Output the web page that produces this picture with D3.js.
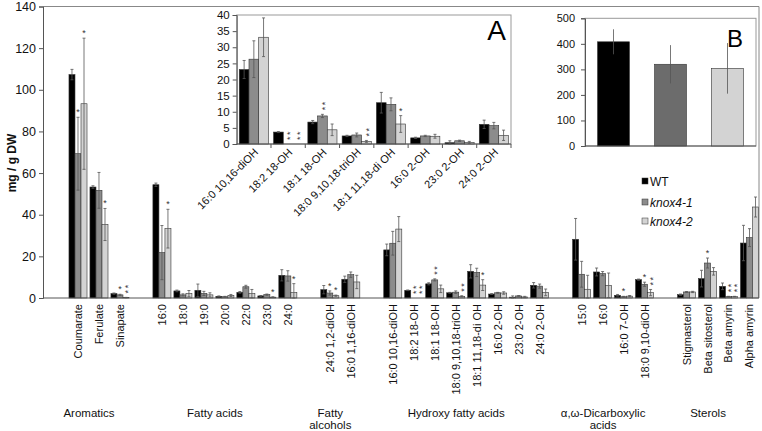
<!DOCTYPE html>
<html><head><meta charset="utf-8">
<script src="https://cdn.jsdelivr.net/npm/d3@7"></script>
<style>body{margin:0;background:#fff} svg{font-family:"Liberation Sans",Arial,sans-serif}</style>
</head><body><svg id="c" width="762" height="431"></svg>
<script>
// ---------------- DATA ----------------
const seriesNames = ["WT", "knox4-1", "knox4-2"];
const groupNames = ["Aromatics", "Fatty acids", "Fatty\nalcohols", "Hydroxy fatty acids", "α,ω-Dicarboxylic\nacids", "Sterols"];
const groupSizes = [3, 7, 2, 8, 4, 4];
const categories = [
  "Coumarate", "Ferulate", "Sinapate",
  "16:0", "18:0", "19:0", "20:0", "22:0", "23:0", "24:0",
  "24:0 1,2-diOH", "16:0 1,16-diOH",
  "16:0 10,16-diOH", "18:2 18-OH", "18:1 18-OH", "18:0 9,10,18-triOH", "18:1 11,18-di OH", "16:0 2-OH", "23:0 2-OH", "24:0 2-OH",
  "15:0", "16:0", "16:0 7-OH", "18:0 9,10-diOH",
  "Stigmasterol", "Beta sitosterol", "Beta amyrin", "Alpha amyrin"
];
const wtValues = [107.3, 53.3, 2.1, 54.4, 3.4, 3.7, 0.8, 2.7, 1.0, 10.9, 4.0, 9.0,
  23.1, 3.7, 6.8, 2.5, 12.8, 1.9, 0.4, 6.1, 28.2, 12.5, 1.3, 8.8, 1.6, 9.3, 5.6, 26.4];
const knox41Values = [69.3, 51.7, 1.5, 21.8, 1.5, 2.2, 0.6, 5.4, 1.6, 10.6, 2.4, 11.2,
  26.3, 0, 8.7, 2.8, 12.3, 2.5, 1.0, 5.7, 11.4, 11.7, 0.6, 6.6, 2.9, 16.8, 0.7, 29.0];
const knox42Values = [93.3, 35.3, 0.2, 33.3, 2.1, 1.5, 1.2, 2.1, 0.4, 2.6, 1.1, 7.7,
  33.1, 0, 4.4, 0.8, 6.2, 2.4, 0.5, 2.7, 4.2, 6.1, 0.9, 2.6, 2.9, 12.8, 0.7, 43.7];
const wtErrors = [2.5, 0.6, 0.3, 0.8, 0.4, 3.0, 0.2, 0.4, 0.2, 2.7, 2.0, 1.5,
  2.8, 0.15, 0.5, 0.2, 3.2, 0.2, 0.6, 1.3, 10.0, 1.9, 0.4, 0.3, 0.3, 4.0, 1.6, 8.5];
const knox41Errors = [17.5, 8.6, 0.3, 13.0, 0.5, 1.0, 0.2, 0.7, 0.3, 2.5, 1.0, 1.3,
  5.7, 0, 0.5, 0.6, 2.0, 0.2, 0.2, 1.0, 6.2, 1.0, 0.2, 1.0, 0.2, 2.4, 0.1, 4.3];
const knox42Errors = [31.5, 7.7, 0.1, 9.3, 1.5, 1.0, 0.5, 2.0, 0.2, 4.3, 0.3, 3.2,
  6.0, 0, 1.8, 0.3, 2.6, 0.6, 0.3, 1.6, 6.7, 5.9, 0.3, 1.5, 0.3, 1.8, 0.1, 4.8];
const wtSig = Array(28).fill("");
const knox41Sig = ["*", "", "*", "", "", "", "", "", "", "", "*", "",
  "", "**", "**", "", "", "", "", "", "", "", "*", "*", "", "*", "**", ""];
const knox42Sig = ["*", "*", "**", "*", "", "", "", "", "*", "*", "*", "",
  "", "**", "", "**", "*", "", "", "", "", "", "", "**", "", "", "**", ""];
const yTicksMain = [0, 20, 40, 60, 80, 100, 120, 140];

// Inset A: hydroxy fatty acids (categories 12..19 of the main data)
const insetAStart = 12, insetACount = 8;
const yTicksA = [0, 5, 10, 15, 20, 25, 30, 35, 40];
// Inset B
const insetBValues = [408, 320, 304];
const insetBErrors = [49, 75, 99];
const yTicksB = [0, 100, 200, 300, 400, 500];

const colorsMain = ["#000000", "#8c8c8c", "#d3d3d3"];
const colorsB = ["#000000", "#6c6c6c", "#d3d3d3"];

// ---------------- DRAW ----------------
const svg = d3.select("#c");
const valuesBySeries = [wtValues, knox41Values, knox42Values];
const errorsBySeries = [wtErrors, knox41Errors, knox42Errors];
const sigBySeries = [wtSig, knox41Sig, knox42Sig];

const slots = [];
const groupSlotRanges = [];
let ci = 0;
groupSizes.forEach((n, g) => {
  const first = ci;
  for (let k = 0; k < n; k++) { slots.push("c" + ci); ci++; }
  groupSlotRanges.push([first, ci - 1]);
  if (g < groupSizes.length - 1) slots.push("gap" + g);
});

const M = {left: 43, right: 759, top: 6.5, bottom: 298};
const x = d3.scaleBand().domain(slots).range([67.5, 760]).paddingInner(0.14).paddingOuter(0.07);
const xs = d3.scaleBand().domain(seriesNames).range([0, x.bandwidth()]);
const y = d3.scaleLinear().domain([0, 140]).range([M.bottom, M.top]);

const data = [];
categories.forEach((c, i) => {
  seriesNames.forEach((s, j) => {
    data.push({i, s, j, v: valuesBySeries[j][i], e: errorsBySeries[j][i], sig: sigBySeries[j][i]});
  });
});

function drawBars(g, rows, xPos, bw, yS, colors, capW) {
  g.selectAll("rect.bar").data(rows).join("rect")
    .attr("x", d => xPos(d)).attr("width", bw)
    .attr("y", d => yS(d.v)).attr("height", d => yS(0) - yS(d.v))
    .attr("fill", d => colors[d.j]).attr("stroke", "#333").attr("stroke-width", 0.6);
  const eb = g.selectAll("g.err").data(rows.filter(d => d.e > 0)).join("g");
  eb.append("line")
    .attr("x1", d => xPos(d) + bw / 2).attr("x2", d => xPos(d) + bw / 2)
    .attr("y1", d => yS(Math.max(0, d.v - d.e))).attr("y2", d => yS(d.v + d.e));
  eb.append("line")
    .attr("x1", d => xPos(d) + bw / 2 - capW).attr("x2", d => xPos(d) + bw / 2 + capW)
    .attr("y1", d => yS(d.v + d.e)).attr("y2", d => yS(d.v + d.e));
  eb.append("line")
    .attr("x1", d => xPos(d) + bw / 2 - capW).attr("x2", d => xPos(d) + bw / 2 + capW)
    .attr("y1", d => yS(Math.max(0, d.v - d.e))).attr("y2", d => yS(Math.max(0, d.v - d.e)));
  eb.selectAll("line").attr("stroke", "#555").attr("stroke-width", 0.8);
  // single asterisks
  g.selectAll("text.sig1").data(rows.filter(d => d.sig === "*")).join("text")
    .attr("x", d => xPos(d) + bw / 2).attr("y", d => yS(d.v + d.e) - 2)
    .attr("text-anchor", "middle").attr("font-size", 9).attr("fill", "#333").text("*");
  // double asterisks, stacked vertically (one rotated text element)
  g.selectAll("text.sig2").data(rows.filter(d => d.sig === "**")).join("text")
    .attr("transform", d => `translate(${xPos(d) + bw / 2},${yS(d.v + d.e) - 4}) rotate(-90)`)
    .attr("text-anchor", "start").attr("dy", "0.575em").attr("letter-spacing", 1.5)
    .attr("font-size", 9).attr("fill", "#333").text("**");
}

// main frame
const main = svg.append("g");
main.append("line").attr("x1", M.left).attr("x2", M.right).attr("y1", M.top).attr("y2", M.top).attr("stroke", "#888");
main.append("line").attr("x1", M.right).attr("x2", M.right).attr("y1", M.top).attr("y2", M.bottom).attr("stroke", "#888");

drawBars(main, data, d => x("c" + d.i) + xs(d.s), xs.bandwidth(), y, colorsMain, 1.5);

const yAx = main.append("g").attr("transform", `translate(${M.left},0)`)
  .call(d3.axisLeft(y).tickValues(yTicksMain).tickSize(4).tickPadding(3));
yAx.select(".domain").attr("stroke", "#555");
yAx.selectAll(".tick line").attr("stroke", "#555");
yAx.selectAll("text").attr("font-size", 12.5).attr("fill", "#111").attr("font-family", "Liberation Sans, Arial");
main.append("line").attr("x1", M.left).attr("x2", M.right).attr("y1", M.bottom).attr("y2", M.bottom).attr("stroke", "#555");

main.selectAll("text.cat").data(categories).join("text")
  .attr("transform", (d, i) => `translate(${x("c" + i) + x.bandwidth() / 2},304) rotate(-90)`)
  .attr("text-anchor", "end").attr("dy", "0.36em").attr("font-size", 11).attr("fill", "#111").text(d => d);

groupNames.forEach((name, g) => {
  const [a, b] = groupSlotRanges[g];
  const cx = (x("c" + a) + x("c" + b) + x.bandwidth()) / 2 - 10;
  const t = main.append("text").attr("x", cx).attr("y", 417).attr("text-anchor", "middle")
    .attr("font-size", 11.5).attr("fill", "#111");
  name.split("\n").forEach((line, k) => {
    t.append("tspan").attr("x", cx).attr("dy", k === 0 ? 0 : 12).text(line);
  });
});

svg.append("text").attr("transform", "translate(16,163) rotate(-90)").attr("text-anchor", "middle")
  .attr("font-size", 12).attr("font-weight", "bold").attr("fill", "#111").text("mg / g DW");

const leg = svg.append("g");
seriesNames.forEach((s, j) => {
  const cy = [181.5, 202.5, 221.5][j];
  leg.append("rect").attr("x", 642).attr("y", cy - 3.5).attr("width", 6).attr("height", 6)
    .attr("fill", colorsMain[j]).attr("stroke", "#333").attr("stroke-width", 0.5);
  leg.append("text").attr("x", 650).attr("y", cy).attr("dy", "0.35em").attr("font-size", 12)
    .attr("font-style", j > 0 ? "italic" : "normal").attr("fill", "#111").text(s);
});

// ---------------- INSET A ----------------
const A = {left: 236.7, right: 511, top: 15, bottom: 144};
const insetCats = categories.slice(insetAStart, insetAStart + insetACount);
const xa = d3.scaleBand().domain(insetCats).range([A.left, A.right]).paddingInner(0.15).paddingOuter(0.075);
const xaOuter = d3.scaleBand().domain(insetCats).range([A.left, A.right]);
const xas = d3.scaleBand().domain(seriesNames).range([0, xa.bandwidth()]);
const ya = d3.scaleLinear().domain([0, 40]).range([A.bottom, A.top]);
const ga = svg.append("g");
ga.append("rect").attr("x", A.left).attr("y", A.top).attr("width", A.right - A.left).attr("height", A.bottom - A.top)
  .attr("fill", "#fff").attr("stroke", "#999").attr("stroke-width", 1);
const dataA = data.filter(d => d.i >= insetAStart && d.i < insetAStart + insetACount);
drawBars(ga, dataA, d => xa(categories[d.i]) + xas(d.s), xas.bandwidth(), ya, colorsMain, 1.5);
const yaAx = ga.append("g").attr("transform", `translate(${A.left},0)`)
  .call(d3.axisLeft(ya).tickValues(yTicksA).tickSize(4).tickPadding(3));
yaAx.select(".domain").attr("stroke", "#555");
yaAx.selectAll(".tick line").attr("stroke", "#555");
yaAx.selectAll("text").attr("font-size", 11.5).attr("fill", "#111");
ga.append("line").attr("x1", A.left).attr("x2", A.right).attr("y1", A.bottom).attr("y2", A.bottom).attr("stroke", "#555");
ga.selectAll("line.bt").data(insetCats).join("line")
  .attr("x1", d => xaOuter(d) + xaOuter.bandwidth()).attr("x2", d => xaOuter(d) + xaOuter.bandwidth())
  .attr("y1", A.bottom).attr("y2", A.bottom + 4).attr("stroke", "#555");
ga.selectAll("text.cat").data(insetCats).join("text")
  .attr("transform", d => `translate(${xa(d) + xa.bandwidth() / 2 + 5},153) rotate(-45)`)
  .attr("text-anchor", "end").attr("font-size", 11).attr("fill", "#111").text(d => d);
ga.append("text").attr("x", 506).attr("y", 40).attr("text-anchor", "end").attr("font-size", 28).attr("fill", "#000").text("A");

// ---------------- INSET B ----------------
const B = {left: 585, right: 756, top: 18.3, bottom: 146};
const xb = d3.scaleBand().domain(seriesNames).range([B.left, B.right]).paddingInner(0.44).paddingOuter(0.22);
const yb = d3.scaleLinear().domain([0, 500]).range([B.bottom, B.top]);
const gb = svg.append("g");
gb.append("rect").attr("x", B.left).attr("y", B.top).attr("width", B.right - B.left).attr("height", B.bottom - B.top)
  .attr("fill", "#fff").attr("stroke", "#999").attr("stroke-width", 1);
const dataB = seriesNames.map((s, j) => ({s, j, v: insetBValues[j], e: insetBErrors[j], sig: ""}));
drawBars(gb, dataB, d => xb(d.s), xb.bandwidth(), yb, colorsB, 0);
const ybAx = gb.append("g").attr("transform", `translate(${B.left},0)`)
  .call(d3.axisLeft(yb).tickValues(yTicksB).tickSize(4).tickPadding(6));
ybAx.select(".domain").attr("stroke", "#555");
ybAx.selectAll(".tick line").attr("stroke", "#555");
ybAx.selectAll("text").attr("font-size", 11).attr("fill", "#111");
gb.append("line").attr("x1", B.left).attr("x2", B.right).attr("y1", B.bottom).attr("y2", B.bottom).attr("stroke", "#555");
gb.append("text").attr("x", 743).attr("y", 47).attr("text-anchor", "end").attr("font-size", 24).attr("fill", "#000").text("B");
</script></body></html>
